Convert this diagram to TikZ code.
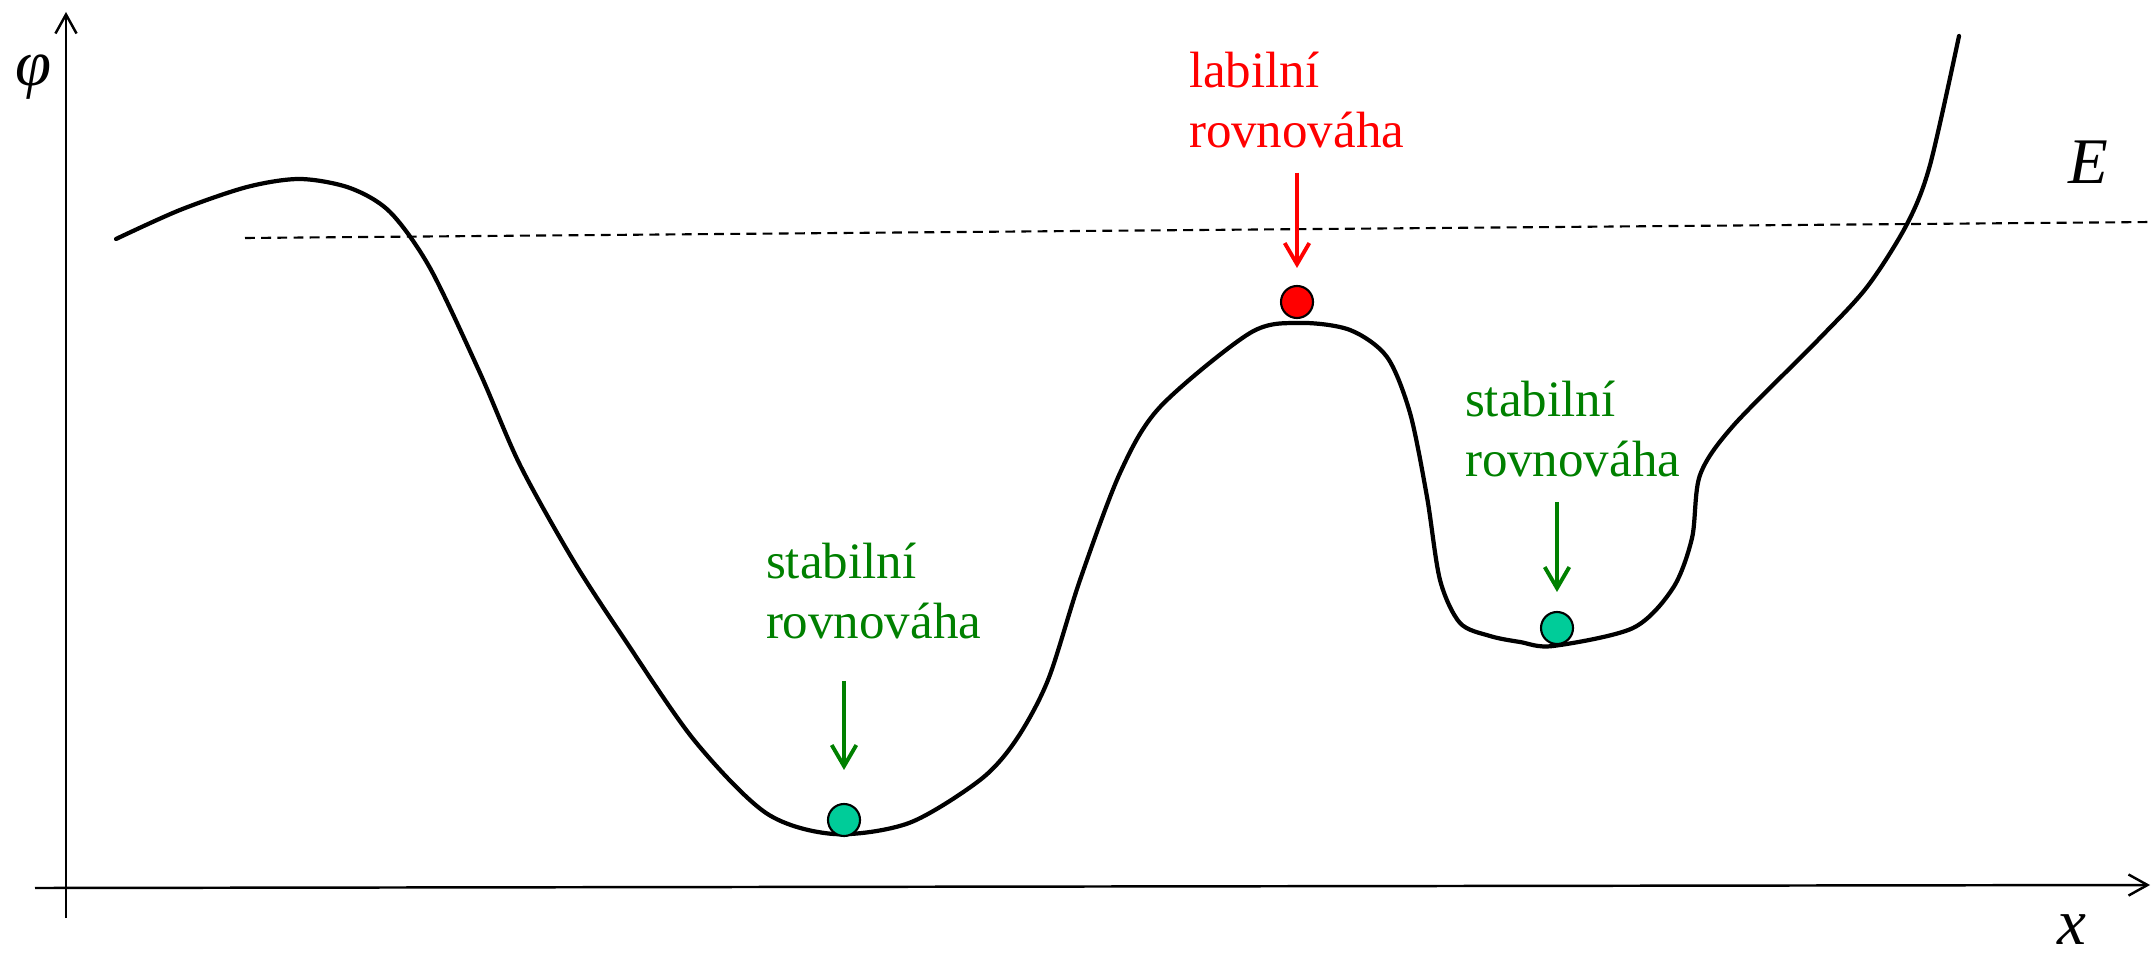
\documentclass[tikz,border=0pt]{standalone}
\usepackage{fontspec}
\setmainfont{Liberation Serif}
\usetikzlibrary{arrows.meta}
\definecolor{eqRed}{HTML}{FF0000}
\definecolor{eqGreen}{HTML}{008000}
\definecolor{eqTeal}{HTML}{00CC99}
\tikzset{
  energy diagram/.style={
    x=0.01cm, y=0.01cm, line width=0.7pt,
    every node/.style={inner sep=0pt, outer sep=0pt}
  },
  axis/.style={-{Straight Barb[length=5.4pt,width=6pt]}, line width=0.7pt},
  level/.style={dash pattern=on 2.8pt off 1.8pt, line width=0.6pt},
  potential/.style={line width=1.2pt, line join=round, line cap=round},
  ball/.style={circle, draw=black, line width=0.6pt, minimum size=0.32cm},
  note/.style={align=left, anchor=north west, font=\fontsize{14.5}{17}\selectfont},
  sym/.style={font=\fontsize{18.5}{22}\selectfont\itshape},
  pointer/.style={-{Straight Barb[length=6pt,width=7pt]}, line width=1.1pt}
}

\begin{document}
\begin{tikzpicture}[energy diagram]
    \useasboundingbox (0,0) rectangle (2152,954);
    % axes
    \coordinate (ybot) at (66,36);
    \coordinate (ytop) at (66,942);
    \coordinate (xleft) at (35,66);
    \coordinate (xright) at (2150,69);
    \draw[axis] (ybot) -- (ytop);
    \draw[axis] (xleft) -- (xright);
    \node[sym] (phi) at (33,877) {φ};
    \node[sym] (xlab) at (2072,24) {x};
    % energy level
    \coordinate (Eleft) at (245,716);
    \coordinate (Eright) at (2152,732);
    \draw[level] (Eleft) -- (Eright);
    \node[sym] (Elab) at (2088,792) {E};
    % potential curve
    \draw[potential] plot[smooth, tension=0.5] coordinates {
      (116,715) (180,744) (247,767) (300,775) (350,766) (390,742)
      (430,686) (480,581) (520,489) (573,394) (623,317) (694,214)
      (766,141) (834,120) (909,131) (980,174) (1016,214) (1048,274)
      (1080,374) (1120,481) (1160,547) (1250,621) (1300,631) (1350,624)
      (1387,597) (1410,541) (1427,457) (1440,374) (1460,331) (1490,318)
      (1520,312) (1553,308) (1633,326) (1673,366) (1692,416) (1700,479)
      (1733,528) (1817,613) (1867,667) (1907,730) (1930,789) (1959,918)};
    % equilibria
    \node[ball, fill=eqRed] (top) at (1297,652) {};
    \node[ball, fill=eqTeal] (min1) at (844,134) {};
    \node[ball, fill=eqTeal] (min2) at (1557,326) {};
    \node[note, text=eqRed] (lab) at (1189,902) {labilní\\rovnováha};
    \node[note, text=eqGreen] (stab1) at (766,411) {stabilní\\rovnováha};
    \node[note, text=eqGreen] (stab2) at (1465,573) {stabilní\\rovnováha};
    \draw[pointer, eqRed, shorten <=0.25cm, shorten >=0.18cm] (lab.south -| top) -- (top.north);
    \draw[pointer, eqGreen, shorten <=0.42cm, shorten >=0.34cm] (stab1.south -| min1) -- (min1.north);
    \draw[pointer, eqGreen, shorten <=0.25cm, shorten >=0.20cm] (stab2.south -| min2) -- (min2.north);
\end{tikzpicture}
\end{document}
